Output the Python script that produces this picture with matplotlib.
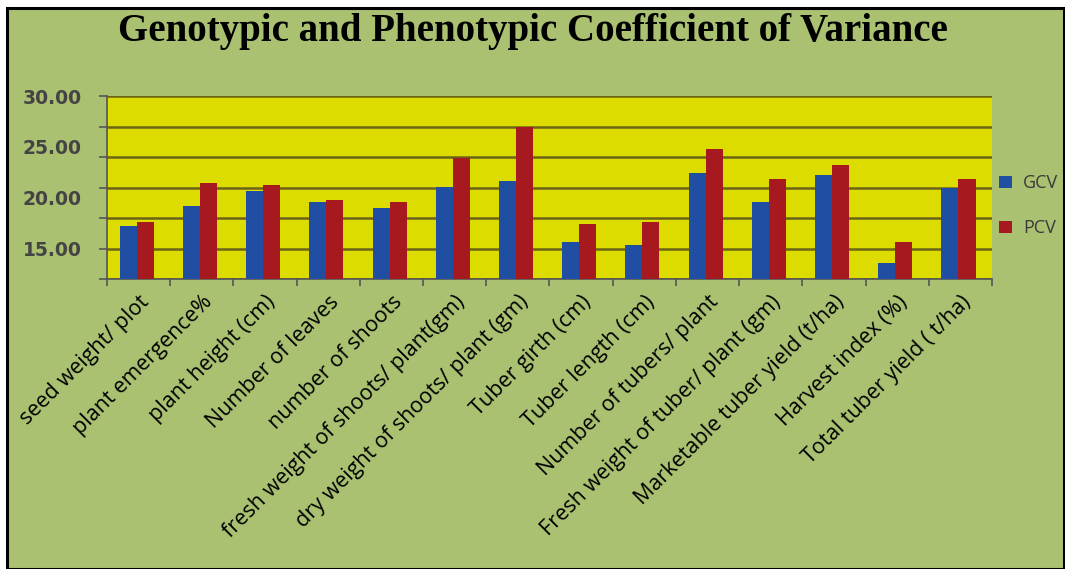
import numpy as np
import matplotlib.pyplot as plt
from matplotlib.patches import Rectangle
from matplotlib.ticker import FixedLocator

categories = ['seed weight/ plot', 'plant emergence%', 'plant height (cm)',
              'Number of leaves', 'number of shoots', 'fresh weight of shoots/ plant(gm)',
              'dry weight of shoots/ plant (gm)', 'Tuber girth (cm)', 'Tuber length (cm)',
              'Number of tubers/ plant', 'Fresh weight of tuber/ plant (gm)',
              'Marketable tuber yield (t/ha)', 'Harvest index (%)', 'Total tuber yield ( t/ha)']
gcv = [17.25, 19.18, 20.66, 19.55, 19.02, 21.02, 21.67, 15.64, 15.32, 22.46, 19.55, 22.23, 13.55, 20.99]
pcv = [17.58, 21.48, 21.25, 19.77, 19.55, 23.94, 26.98, 17.41, 17.58, 24.76, 21.84, 23.22, 15.64, 21.84]
grid_vals = [12, 15, 18, 21, 24, 27, 30]
label_vals = [15, 20, 25, 30]

W, H = 1065, 569
fig = plt.figure(figsize=(W / 100, H / 100), dpi=100)
fig.patch.set_facecolor('white')
fig.patches.append(Rectangle((7 / W, 0), (W - 8) / W, (H - 8) / H, transform=fig.transFigure,
                             facecolor='#abc172', edgecolor='black', linewidth=2.2, zorder=-10))

ax = fig.add_axes([107 / W, 1 - 279 / H, (992 - 107) / W, (279 - 96) / H])
ax.set_facecolor('#dcdc00')

x = np.arange(len(categories))
bw = 0.27
ax.bar(x - bw / 2 - 0.03, gcv, bw, color='#1f4ea3', label='GCV', zorder=3)
ax.bar(x + bw / 2 - 0.03, pcv, bw, color='#a5191f', label='PCV', zorder=3)

ax.set_xlim(-0.5, len(categories) - 0.5)
ax.set_ylim(12, 30)
for v in grid_vals:
    ax.axhline(v, color='#6b6418', linewidth=1.8, zorder=1)

ax.yaxis.remove_overlapping_locs = False
ax.set_yticks(grid_vals)
ax.set_yticklabels([])
ax.yaxis.set_minor_locator(FixedLocator(label_vals))
ax.set_yticklabels(['%.2f' % v for v in label_vals], minor=True)
ax.tick_params(axis='y', which='major', length=6, color='#555555', width=1.2)
ax.tick_params(axis='y', which='minor', length=0, pad=18, labelsize=13.5, labelcolor='#444444')
for t in ax.get_yticklabels(minor=True):
    t.set_fontweight('semibold')

ax.set_xticks(np.arange(len(categories) + 1) - 0.5, minor=False)
ax.set_xticklabels([])
ax.set_xticks(x, minor=True)
ax.set_xticklabels(categories, minor=True, rotation=45, ha='right', rotation_mode='anchor',
                   fontsize=15.5, family='Open Sans', fontweight='medium')
ax.tick_params(axis='x', which='major', length=5, color='#555555', width=1.2)
ax.tick_params(axis='x', which='minor', length=0, pad=9)

for s in ['top', 'right']:
    ax.spines[s].set_visible(False)
ax.spines['left'].set_color('#555555')
ax.spines['bottom'].set_color('#555555')
ax.spines['left'].set_linewidth(1.2)
ax.spines['bottom'].set_linewidth(1.2)

leg = ax.legend(loc='center left', bbox_to_anchor=(0.99, 0.40), frameon=False,
                handlelength=0.7, handleheight=0.7, handletextpad=0.6,
                labelspacing=1.5, prop={'family': 'Open Sans', 'size': 13})
for t in leg.get_texts():
    t.set_color('#3a3a3a')

fig.text(0.5, 1 - 31 / H, 'Genotypic and Phenotypic Coefficient of Variance', ha='center', va='center',
         fontsize=28, fontweight='bold', family='Liberation Serif')

fig.savefig('out.png', dpi=100, facecolor=fig.get_facecolor())
